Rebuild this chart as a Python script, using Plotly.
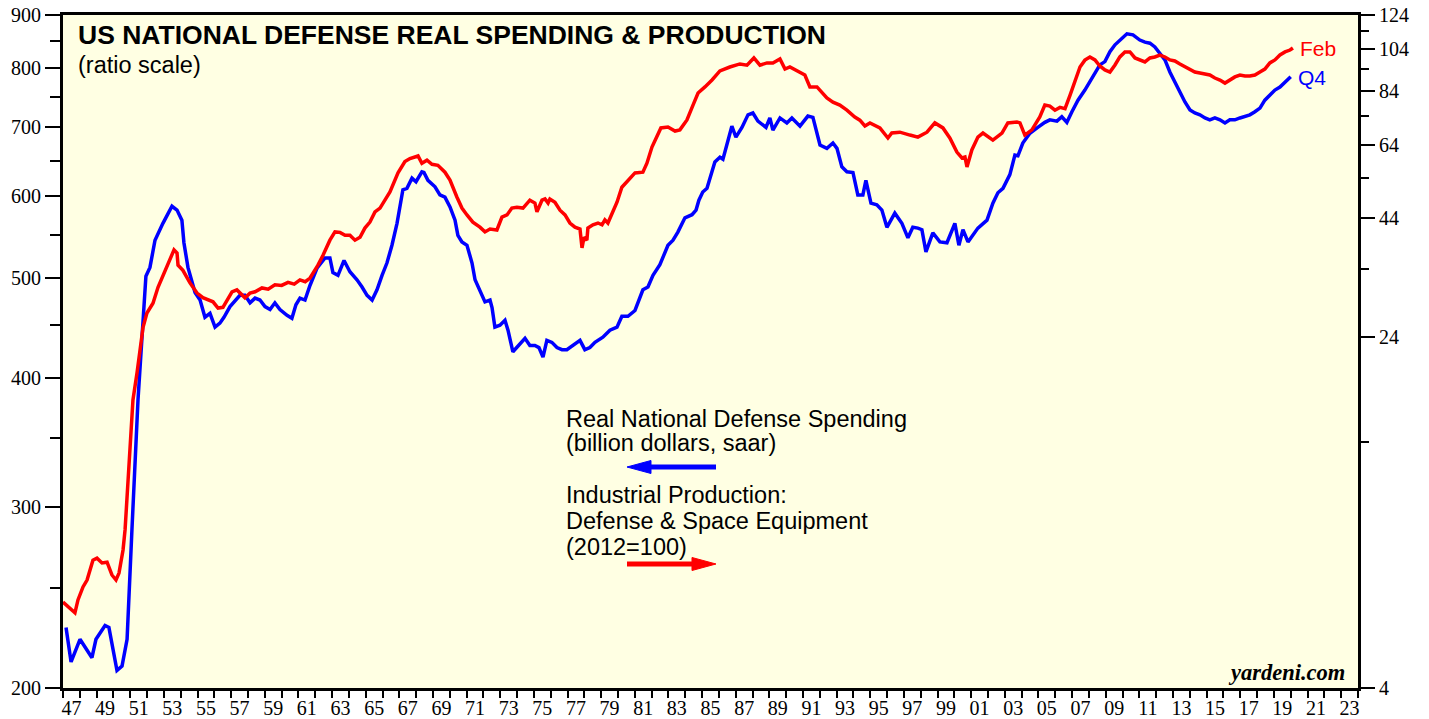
import plotly.graph_objects as go
import math

# Real National Defense Spending (billion dollars, saar) - left axis
blue_years = [1947.18, 1947.48, 1948.01, 1948.72, 1948.96, 1949.50, 1949.73, 1950.21, 1950.51, 1950.81,
              1951.10, 1951.46, 1951.93, 1952.17, 1952.47, 1952.94, 1953.48, 1953.78, 1954.07, 1954.19,
              1954.43, 1954.85, 1955.15, 1955.44, 1955.74, 1956.04, 1956.33, 1956.57, 1956.93, 1957.52,
              1957.82, 1958.12, 1958.42, 1958.71, 1959.01, 1959.31, 1959.60, 1959.90, 1960.32, 1960.61,
              1960.85, 1961.09, 1961.39, 1961.69, 1962.10, 1962.58, 1962.87, 1963.05, 1963.35, 1963.71,
              1964.06, 1964.48, 1964.78, 1965.08, 1965.38, 1965.67, 1965.97, 1966.26, 1966.56, 1966.86,
              1967.21, 1967.45, 1967.75, 1967.99, 1968.34, 1968.46, 1968.70, 1969.12, 1969.41, 1969.71,
              1970.01, 1970.31, 1970.48, 1970.72, 1971.02, 1971.32, 1971.50, 1971.79, 1972.09, 1972.39,
              1972.51, 1972.68, 1972.98, 1973.28, 1973.46, 1973.75, 1974.05, 1974.47, 1974.76, 1975.06,
              1975.30, 1975.54, 1975.77, 1976.07, 1976.37, 1976.67, 1976.96, 1977.32, 1977.74, 1978.03,
              1978.33, 1978.63, 1979.10, 1979.52, 1979.94, 1980.23, 1980.59, 1981.01, 1981.48, 1981.78,
              1982.08, 1982.49, 1982.97, 1983.27, 1983.56, 1983.98, 1984.40, 1984.64, 1984.81, 1985.04,
              1985.29, 1985.76, 1986.06, 1986.24, 1986.77, 1987.01, 1987.37, 1987.73, 1988.02, 1988.32,
              1988.80, 1989.03, 1989.21, 1989.63, 1990.04, 1990.34, 1990.82, 1991.29, 1991.59, 1992.01,
              1992.42, 1992.78, 1993.02, 1993.31, 1993.61, 1993.97, 1994.26, 1994.56, 1994.74, 1995.04,
              1995.39, 1995.69, 1995.99, 1996.46, 1996.88, 1997.24, 1997.53, 1997.83, 1998.07, 1998.31,
              1998.72, 1999.14, 1999.56, 2000.03, 2000.27, 2000.51, 2000.81, 2001.40, 2001.94, 2002.29,
              2002.59, 2002.89, 2003.30, 2003.60, 2003.78, 2004.07, 2004.49, 2004.96, 2005.38, 2005.68,
              2006.10, 2006.39, 2006.69, 2006.99, 2007.35, 2007.76, 2008.18, 2008.65, 2008.95, 2009.25,
              2009.55, 2009.84, 2010.26, 2010.62, 2011.03, 2011.33, 2011.63, 2011.92, 2012.22, 2012.52,
              2012.82, 2013.11, 2013.41, 2013.71, 2014.01, 2014.30, 2014.60, 2014.90, 2015.19, 2015.49,
              2015.79, 2016.09, 2016.38, 2016.68, 2016.98, 2017.28, 2017.57, 2017.87, 2018.17, 2018.46,
              2018.76, 2019.06, 2019.36, 2019.66, 2020.00]
blue_vals = [229, 212, 223, 214, 223, 230, 229, 208, 210, 223,
             285, 381, 502, 512, 544, 565, 587, 582, 569, 541,
             512, 484, 476, 458, 462, 448, 452, 458, 469, 481,
             481, 473, 478, 476, 469, 466, 473, 466, 460, 457,
             471, 478, 476, 492, 511, 523, 523, 506, 503, 520,
             507, 498, 490, 481, 476, 487, 503, 517, 538, 565,
             609, 611, 625, 620, 634, 633, 622, 613, 602, 599,
             586, 569, 550, 542, 538, 517, 498, 485, 474, 476,
             468, 448, 450, 455, 445, 424, 429, 437, 430, 430,
             428, 419, 435, 433, 428, 426, 426, 430, 435, 426,
             428, 433, 438, 445, 448, 459, 459, 465, 487, 490,
             503, 515, 538, 544, 554, 572, 576, 582, 595, 606,
             611, 648, 655, 652, 702, 685, 700, 720, 723, 710,
             700, 715, 696, 715, 707, 715, 702, 718, 716, 673,
             668, 676, 668, 641, 634, 633, 602, 602, 622, 591,
             589, 582, 560, 578, 565, 547, 560, 559, 557, 530,
             553, 542, 541, 565, 538, 557, 542, 559, 569, 591,
             605, 611, 630, 658, 657, 676, 691, 700, 708, 712,
             710, 717, 708, 725, 744, 761, 782, 805, 811, 829,
             842, 851, 863, 861, 851, 847, 845, 838, 827, 814,
             792, 775, 758, 741, 728, 723, 720, 715, 712, 715,
             712, 707, 712, 712, 715, 717, 720, 725, 731, 744,
             753, 761, 766, 775, 784]

# Industrial Production: Defense & Space Equipment (2012=100) - right axis
red_years = [1947.00, 1947.42, 1947.71, 1947.89, 1948.19, 1948.43, 1948.78, 1949.02, 1949.32, 1949.62,
             1949.91, 1950.15, 1950.33, 1950.57, 1950.69, 1950.87, 1951.16, 1951.40, 1951.76, 1951.99,
             1952.35, 1952.65, 1953.06, 1953.48, 1953.60, 1953.78, 1953.84, 1954.13, 1954.55, 1954.97,
             1955.32, 1955.92, 1956.22, 1956.51, 1956.81, 1957.05, 1957.34, 1957.52, 1957.82, 1958.12,
             1958.42, 1958.83, 1959.20, 1959.60, 1960.00, 1960.38, 1960.75, 1961.09, 1961.40, 1961.69,
             1962.16, 1962.46, 1962.87, 1963.17, 1963.47,
             1963.77, 1964.06, 1964.36, 1964.66, 1964.95, 1965.25, 1965.55, 1965.85, 1966.14, 1966.44,
             1966.92, 1967.33, 1967.63, 1968.11, 1968.34, 1968.64, 1968.94, 1969.29, 1969.71, 1970.01,
             1970.42, 1970.72, 1971.02, 1971.37, 1971.79, 1972.09, 1972.39, 1972.80, 1973.10, 1973.40,
             1973.69, 1973.99, 1974.35, 1974.76, 1975.06, 1975.18, 1975.48, 1975.66, 1975.84, 1975.95,
             1976.25, 1976.55, 1976.85, 1977.14, 1977.44, 1977.74, 1977.86, 1977.98, 1978.15, 1978.21,
             1978.51, 1978.81, 1979.05, 1979.22, 1979.40, 1979.70, 1979.94, 1980.23, 1980.59, 1981.01,
             1981.48, 1981.72, 1982.02, 1982.20, 1982.55, 1982.97, 1983.39, 1983.68, 1984.10, 1984.46,
             1984.76, 1985.17, 1985.59, 1986.06, 1986.65, 1987.25, 1987.67, 1988.08, 1988.44, 1988.86,
             1989.21, 1989.63, 1989.93, 1990.22, 1990.64, 1991.11, 1991.41, 1991.83, 1992.42, 1992.78,
             1993.19, 1993.61, 1994.08, 1994.38, 1994.68, 1994.98, 1995.57, 1996.05, 1996.28, 1996.76,
             1997.36, 1997.83, 1998.37, 1998.84, 1999.32, 1999.73, 2000.15, 2000.45, 2000.63, 2000.75,
             2001.04, 2001.40, 2001.70, 2002.29, 2002.83, 2003.18, 2003.72, 2003.90, 2004.19, 2004.61,
             2005.08, 2005.38, 2005.68, 2005.98, 2006.28, 2006.58, 2006.88, 2007.17, 2007.47, 2007.76,
             2008.06, 2008.36, 2008.65, 2008.95, 2009.25, 2009.55, 2009.84, 2010.14, 2010.44, 2010.74,
             2011.03, 2011.33, 2011.63, 2011.92, 2012.22, 2012.52, 2012.82, 2013.11, 2013.41, 2013.71,
             2014.01, 2014.30, 2014.60, 2014.90, 2015.19, 2015.49, 2015.79, 2016.09, 2016.38, 2016.68,
             2016.98, 2017.28, 2017.57, 2017.87, 2018.17, 2018.46, 2018.76, 2019.06, 2019.36, 2019.66,
             2019.96, 2020.13]
red_vals = [6.20, 6.01, 5.87, 6.27, 6.70, 6.94, 7.68, 7.76, 7.57, 7.60,
            7.12, 6.94, 7.19, 8.09, 8.96, 11.56, 17.4, 19.96, 25.2, 27.1,
            28.5, 30.9, 33.7, 36.8, 37.4, 36.8, 34.6, 33.7, 31.6, 30.0,
            29.3, 28.7, 27.8, 27.9, 29.3, 30.2, 30.5, 30.0, 29.3, 30.0,
            30.2, 30.8, 30.6, 31.3, 31.2, 31.7, 31.4, 32.1, 31.8, 32.4,
            34.6, 36.4, 39.3, 41.0, 40.9,
            40.3, 40.3, 39.3, 39.9, 41.8, 43.1, 45.4, 46.3, 48.2, 50.3,
            55.4, 58.7, 59.6, 60.4, 58.2, 59.1, 57.9, 57.6, 55.6, 53.4,
            49.0, 46.3, 44.7, 43.1, 42.0, 41.0, 41.6, 41.4, 44.2, 44.7,
            46.3, 46.5, 46.3, 48.2, 47.5, 45.4, 48.2, 48.5, 47.5, 48.5,
            47.7, 45.8, 44.7, 42.9, 42.0, 41.6, 37.8, 39.9, 39.3, 41.8,
            42.5, 42.9, 42.5, 43.6, 42.9, 45.4, 47.7, 51.5, 53.4, 55.4,
            55.6, 58.2, 63.2, 65.5, 69.7, 70.0, 68.6, 69.0, 72.6, 78.3,
            83.3, 85.9, 89.0, 93.2, 95.1, 96.6, 96.0, 99.6, 96.0, 97.1,
            97.1, 99.1, 94.1, 95.1, 93.2, 91.3, 85.9, 85.9, 81.2, 79.5,
            78.3, 76.3, 73.7, 72.5, 70.4, 71.5, 69.7, 66.2, 67.9, 68.2,
            67.2, 66.5, 68.2, 71.5, 69.7, 66.2, 61.6, 59.8, 60.1, 57.1,
            62.3, 66.5, 67.9, 65.5, 67.9, 71.5, 71.8, 71.5, 67.2, 69.0,
            73.7, 78.3, 77.9, 76.3, 77.4, 76.9, 82.4, 88.1, 95.1, 98.5,
            100.1, 98.6, 95.6, 93.7, 92.7, 96.1, 100.1, 102.7, 102.7, 99.6,
            98.6, 97.6, 99.6, 100.1, 101.1, 100.1, 98.6, 98.1, 96.6, 95.1,
            93.7, 92.7, 92.2, 91.8, 91.3, 89.9, 89.0, 87.6, 89.0, 90.4,
            91.3, 90.8, 90.8, 91.3, 92.7, 94.1, 97.1, 98.6, 101.1, 102.7,
            103.7, 104.8]

left_ticks = [200, 300, 400, 500, 600, 700, 800, 900]
left_minor = [250, 350, 450, 550, 650, 750, 850]
right_ticks = [4, 24, 44, 64, 84, 104, 124]
right_minor = [14, 34, 54, 74, 94, 114]
year_ticks = list(range(1947, 2025))
label_years = list(range(1947, 2024, 2))
label_text = ["%02d" % (y % 100) for y in label_years]

SERIF = "Liberation Serif, Times New Roman, serif"
SANS = "Liberation Sans, Arial, sans-serif"

PLOT_L, PLOT_T, PLOT_W, PLOT_H = 63, 15, 1295, 673

fig = go.Figure()
fig.add_trace(go.Scatter(x=blue_years, y=blue_vals, mode="lines",
                         line=dict(color="#0000FF", width=3.5), yaxis="y", showlegend=False))
fig.add_trace(go.Scatter(x=red_years, y=red_vals, mode="lines",
                         line=dict(color="#FF0000", width=3.5), yaxis="y2", showlegend=False))

fig.update_layout(
    width=1429, height=719,
    margin=dict(l=63, r=71, t=15, b=31, autoexpand=False),
    paper_bgcolor="white",
    plot_bgcolor="#FFFFE3",
    xaxis=dict(range=[1947, 2024], showgrid=False, zeroline=False, automargin=False,
               tickmode="array", tickvals=[y + 0.5 for y in label_years], ticktext=label_text,
               ticks="outside", ticklen=0, tickwidth=0, ticklabeloverflow="allow",
               minor=dict(tickmode="array", tickvals=year_ticks, ticks="outside", ticklen=7,
                          tickwidth=2, tickcolor="black"),
               tickfont=dict(family=SERIF, size=20, color="black"),
               showline=True, linewidth=3, linecolor="black", mirror=True),
    yaxis=dict(type="log", range=[math.log10(200), math.log10(900)], showgrid=False, zeroline=False,
               automargin=False, ticklabeloverflow="allow",
               tickmode="array", tickvals=left_ticks, ticktext=[str(v) for v in left_ticks],
               ticks="outside", ticklen=15, tickwidth=2, tickcolor="black",
               minor=dict(tickmode="array", tickvals=left_minor, ticks="outside", ticklen=10,
                          tickwidth=2, tickcolor="black"),
               tickfont=dict(family=SERIF, size=20, color="black"),
               showline=True, linewidth=3, linecolor="black"),
    yaxis2=dict(type="log", range=[math.log10(4), math.log10(124)], overlaying="y", side="right",
                showgrid=False, zeroline=False, automargin=False, ticklabeloverflow="allow",
                tickmode="array", tickvals=right_ticks, ticktext=[str(v) for v in right_ticks],
                ticks="outside", ticklen=14, tickwidth=2, tickcolor="black",
                minor=dict(tickmode="array", tickvals=right_minor, ticks="outside", ticklen=8,
                           tickwidth=2, tickcolor="black"),
                tickfont=dict(family=SERIF, size=20, color="black"),
                showline=True, linewidth=3, linecolor="black"),
)

def px(xp):
    return (xp - PLOT_L) / PLOT_W

def py(yp):
    return (PLOT_T + PLOT_H - yp) / PLOT_H

def ann(text, x, y, size, color="black", family=SANS, xanchor="left", yanchor="middle"):
    fig.add_annotation(text=text, x=px(x), y=py(y), xref="paper", yref="paper", showarrow=False,
                       xanchor=xanchor, yanchor=yanchor, align="left",
                       font=dict(family=family, size=size, color=color))

ann("<b>US NATIONAL DEFENSE REAL SPENDING &amp; PRODUCTION</b>", 76, 35, 26.5)
ann("(ratio scale)", 76, 65, 23.5)
ann("Real National Defense Spending", 564, 419, 23.5)
ann("(billion dollars, saar)", 564, 443, 23.5)
ann("Industrial Production:", 564, 495, 23.5)
ann("Defense &amp; Space Equipment", 564, 521, 23.5)
ann("(2012=100)", 564, 547, 23.5)
ann("Feb", 1298, 48, 21, color="#FF0000")
ann("Q4", 1296, 77, 21, color="#0000FF")
ann("<b><i>yardeni.com</i></b>", 1347, 672, 22.5, family=SERIF, xanchor="right")

# legend arrows drawn as shaft + triangular head
def arrow(tip_x, tail_x, y, color, head_len=24, half_w=6.5):
    d = 1 if tail_x > tip_x else -1
    base_x = tip_x + d * head_len
    fig.add_shape(type="line", xref="paper", yref="paper",
                  x0=px(base_x - d * 2), y0=py(y), x1=px(tail_x), y1=py(y),
                  line=dict(color=color, width=5))
    path = "M %f %f L %f %f L %f %f Z" % (px(tip_x), py(y), px(base_x), py(y - half_w),
                                          px(base_x), py(y + half_w))
    fig.add_shape(type="path", xref="paper", yref="paper", path=path,
                  fillcolor=color, line=dict(color=color, width=1))

arrow(627, 716, 467, "#0000FF")
arrow(716, 627, 564, "#FF0000")

# remove the default page margin so the 1429x719 figure fills the window exactly
fig.write_html("out.html", config={"displayModeBar": False},
               post_script="document.body.style.margin='0px';")
